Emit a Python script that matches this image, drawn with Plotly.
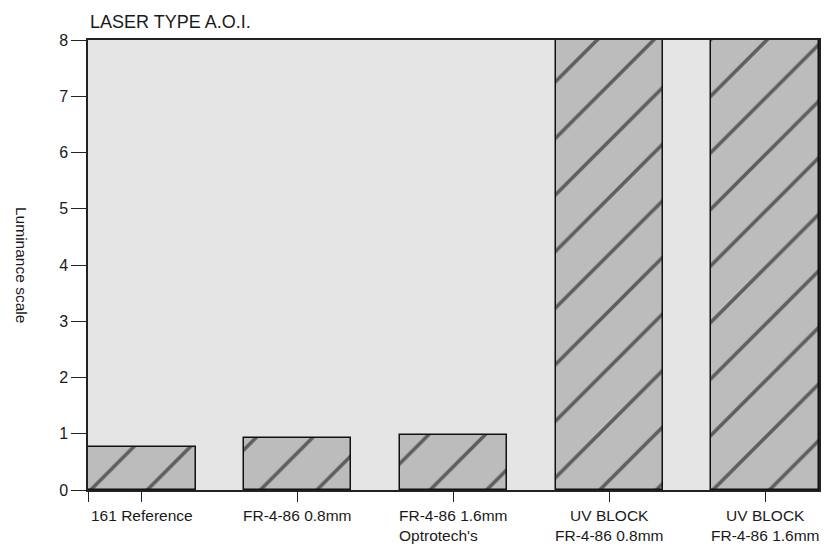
import plotly.graph_objects as go

title_text = "LASER TYPE A.O.I."
y_title = "Luminance scale"
categories = ["161 Reference", "FR-4-86 0.8mm", "FR-4-86 1.6mm<br>Optrotech's",
              "UV BLOCK<br>FR-4-86 0.8mm", "UV BLOCK<br>FR-4-86 1.6mm"]
label_align = ["center", "center", "left", "center", "center"]
values = [0.76, 0.92, 0.97, 8.0, 8.0]
y_ticks = [0, 1, 2, 3, 4, 5, 6, 7, 8]

positions = list(range(len(categories)))
font = "Liberation Sans, Arial, Helvetica, sans-serif"

fig = go.Figure()
fig.add_trace(go.Bar(
    x=positions, y=values, width=0.69,
    marker=dict(color="#bcbcbc",
                line=dict(color="#111111", width=1.5),
                pattern=dict(shape="/", fgcolor="#000000", bgcolor="#bcbcbc",
                             size=40, solidity=0.09)),
    showlegend=False, hoverinfo="skip",
))

for p, lab, al in zip(positions, categories, label_align):
    fig.add_annotation(x=p, y=0, xref="x", yref="paper", text=lab, showarrow=False,
                       yanchor="top", yshift=-15, align=al,
                       font=dict(family=font, size=15.5, color="#1a1a1a"))

fig.add_annotation(x=0, y=1, xref="paper", yref="paper", text=title_text, showarrow=False,
                   xanchor="left", yanchor="bottom", yshift=6, xshift=0,
                   font=dict(family=font, size=18, color="#1a1a1a"))
fig.add_annotation(x=0, y=0.5, xref="paper", yref="paper", text=y_title, showarrow=False,
                   textangle=90, xanchor="center", yanchor="middle", xshift=-66,
                   font=dict(family=font, size=15.5, color="#1a1a1a"))

fig.update_layout(
    width=813, height=540,
    margin=dict(l=80, r=0, t=32, b=58),
    paper_bgcolor="white", plot_bgcolor="#e5e5e5",
    bargap=0,
    xaxis=dict(range=[-0.345, 4.345], tickvals=[-0.345] + positions,
               ticktext=[""] * (len(positions) + 1),
               ticks="outside", ticklen=10, tickwidth=1.2, tickcolor="#222222",
               showline=True, linecolor="#222222", linewidth=1.5, mirror=True,
               showgrid=False, zeroline=False, fixedrange=True),
    yaxis=dict(range=[0, 8], tickvals=y_ticks, ticks="outside", ticklen=15,
               tickwidth=1.2, tickcolor="#222222", showline=True, linecolor="#222222",
               linewidth=1.5, mirror=True, showgrid=False, zeroline=False,
               tickfont=dict(family=font, size=16, color="#1a1a1a")),
)

fig.write_html("out.html")
